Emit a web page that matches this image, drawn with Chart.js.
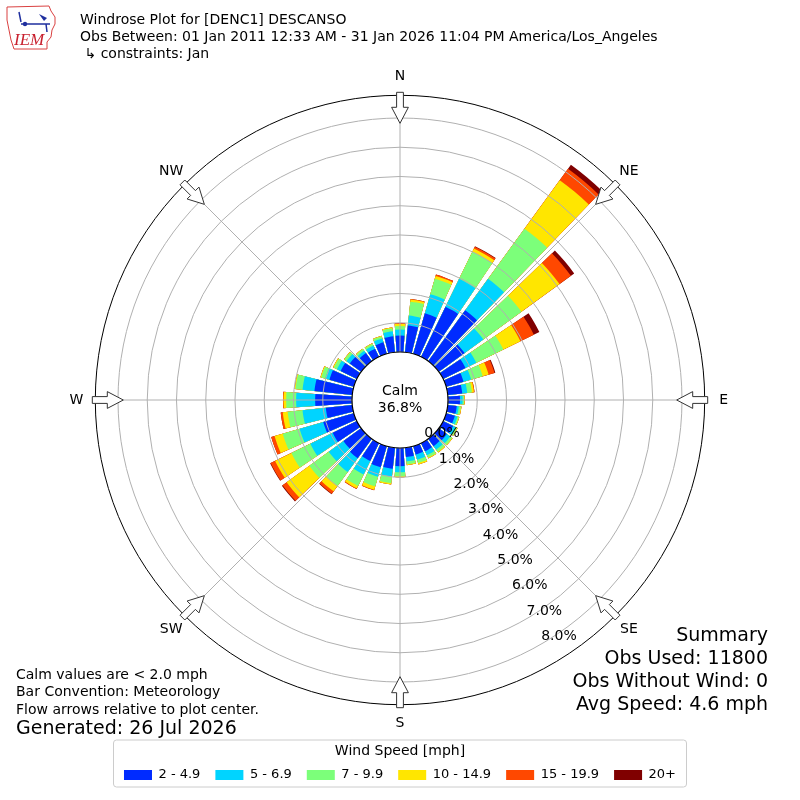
<!DOCTYPE html>
<html>
<head>
<meta charset="utf-8">
<title>Windrose DESCANSO</title>
<script src="https://cdn.jsdelivr.net/npm/chart.js@4.4.1/dist/chart.umd.min.js"></script>
<style>
  html, body { margin: 0; padding: 0; background: #fff; }
  #wrap { width: 800px; height: 800px; }
</style>
</head>
<body>
<div id="wrap"><canvas id="rose" width="800" height="800"></canvas></div>
<script>
// bar directions, degrees clockwise from north
const directions = [0, 10, 20, 30, 40, 50, 60, 70, 80, 90, 100, 110, 120, 130, 140, 150, 160, 170,
                    180, 190, 200, 210, 220, 230, 240, 250, 260, 270, 280, 290, 300, 310, 320, 330, 340, 350];
const speedBins = ['2 - 4.9', '5 - 6.9', '7 - 9.9', '10 - 14.9', '15 - 19.9', '20+'];

// percent of obs in each speed bin, per direction
const spd2to5 = [0.56, 0.92, 1.44, 1.91, 2.15, 1.09, 0.85, 0.62, 0.50, 0.41, 0.31, 0.31, 0.38, 0.34, 0.31, 0.31, 0.30, 0.32,
                 0.62, 0.72, 0.75, 0.68, 0.82, 0.75, 0.92, 1.09, 0.91, 1.26, 1.30, 0.87, 0.62, 0.48, 0.34, 0.31, 0.41, 0.55];
const spd5to7 = [0.21, 0.34, 0.68, 1.06, 1.33, 0.79, 0.41, 0.27, 0.17, 0.09, 0.07, 0.09, 0.10, 0.14, 0.15, 0.15, 0.18, 0.15,
                 0.21, 0.27, 0.34, 0.51, 0.58, 0.62, 0.85, 0.84, 0.80, 0.65, 0.41, 0.15, 0.14, 0.14, 0.10, 0.12, 0.14, 0.17];
const spd7to10 = [0.12, 0.48, 0.55, 1.03, 2.12, 1.61, 1.03, 0.41, 0.16, 0.05, 0.07, 0.05, 0.05, 0.08, 0.09, 0.09, 0.12, 0.10,
                  0.14, 0.22, 0.34, 0.44, 0.58, 0.82, 0.72, 0.60, 0.51, 0.34, 0.24, 0.14, 0.12, 0.09, 0.07, 0.07, 0.07, 0.10];
const spd10to15 = [0.07, 0.07, 0.10, 0.12, 2.05, 1.61, 0.65, 0.21, 0.07, 0.02, 0.02, 0.02, 0.02, 0.02, 0.03, 0.03, 0.05, 0.03,
                   0.03, 0.05, 0.12, 0.09, 0.24, 0.96, 0.62, 0.29, 0.17, 0.09, 0.03, 0.03, 0.03, 0.02, 0.02, 0.02, 0.02, 0.03];
const spd15to20 = [0.03, 0.02, 0.05, 0.07, 0.48, 0.48, 0.51, 0.21, 0.02, 0, 0, 0, 0, 0, 0, 0, 0, 0,
                   0, 0, 0.02, 0.02, 0.10, 0.17, 0.17, 0.12, 0.07, 0.02, 0, 0, 0, 0, 0, 0, 0, 0];
const spd20up = [0, 0, 0, 0.02, 0.17, 0.14, 0.21, 0.03, 0, 0, 0, 0, 0, 0, 0, 0, 0, 0,
                 0, 0, 0, 0, 0.02, 0.03, 0.02, 0, 0, 0, 0, 0, 0, 0, 0, 0, 0, 0];

const ringTicks = [0, 1, 2, 3, 4, 5, 6, 7, 8];   // % rings
const compass = ['N', 'NE', 'E', 'SE', 'S', 'SW', 'W', 'NW'];
const calmPct = 36.8;
const summaryLines = ['Summary', 'Obs Used: 11800', 'Obs Without Wind: 0', 'Avg Speed: 4.6 mph'];
const noteLines = ['Calm values are < 2.0 mph', 'Bar Convention: Meteorology', 'Flow arrows relative to plot center.'];

const binColors = ['#002bff', '#00d4ff', '#7cff7a', '#ffe600', '#ff4800', '#800000'];
const RMIN = -1.641, RMAX = 8.776;   // calm hole sits below 0 %
const FONT = '"DejaVu Sans", sans-serif';

Chart.defaults.font.family = FONT;
Chart.defaults.color = '#000';

// stacked look: each dataset is the running total, smallest drawn on top
const binSeries = [spd2to5, spd5to7, spd7to10, spd10to15, spd15to20, spd20up];
const cumulative = binSeries.map((s, k) =>
  directions.map((d, i) => binSeries.slice(0, k + 1).reduce((t, arr) => t + arr[i], 0)));

// each direction = an 8 deg bar + a 2 deg empty gap
const labels = directions.flatMap(d => [d + '°', '']);

function rad(a) { return a * Math.PI / 180; }

const roseDecor = {
  id: 'roseDecor',
  afterLayout(chart) {
    const r = chart.scales.r;
    r.xCenter = 400;
    r.yCenter = 400;
    r.drawingArea = 304.7;
  },
  afterDatasetsDraw(chart) {
    const r = chart.scales.r, ctx = chart.ctx;
    const r0 = r.getDistanceFromCenterForValue(0), r1 = r.drawingArea;
    ctx.save();
    ctx.strokeStyle = '#b0b0b0';
    ctx.lineWidth = 1;
    for (let a = 0; a < 360; a += 45) {
      const s = Math.sin(rad(a)), c = -Math.cos(rad(a));
      ctx.beginPath();
      ctx.moveTo(r.xCenter + r0 * s, r.yCenter + r0 * c);
      ctx.lineTo(r.xCenter + r1 * s, r.yCenter + r1 * c);
      ctx.stroke();
    }
    ctx.restore();
  },
  afterDraw(chart) {
    const r = chart.scales.r, ctx = chart.ctx;
    const cx = r.xCenter, cy = r.yCenter, R = r.drawingArea;
    ctx.save();

    // compass arrows + labels
    compass.forEach((name, i) => {
      const a = i * 45;
      const s = Math.sin(rad(a)), c = -Math.cos(rad(a));
      const pts = [[R + 3, -3.4], [R - 12, -3.4], [R - 12, -8.4], [R - 28, 0], [R - 12, 8.4], [R - 12, 3.4], [R + 3, 3.4]];
      ctx.beginPath();
      pts.forEach(([d, w], j) => {
        const x = cx + d * s - w * c, y = cy + d * c + w * s;
        if (j) ctx.lineTo(x, y); else ctx.moveTo(x, y);
      });
      ctx.closePath();
      ctx.fillStyle = '#fff';
      ctx.fill();
      ctx.strokeStyle = '#333';
      ctx.lineWidth = 1;
      ctx.stroke();
      ctx.fillStyle = '#000';
      ctx.font = '14px ' + FONT;
      ctx.textAlign = 'center';
      ctx.textBaseline = 'middle';
      ctx.fillText(name, cx + (R + 19) * s, cy + (R + 19) * c);
    });

    // calm hole
    const r0 = r.getDistanceFromCenterForValue(0);
    ctx.beginPath();
    ctx.arc(cx, cy, r0, 0, Math.PI * 2);
    ctx.fillStyle = '#fff';
    ctx.fill();
    ctx.strokeStyle = '#000';
    ctx.lineWidth = 1.2;
    ctx.stroke();
    ctx.fillStyle = '#000';
    ctx.font = '14px ' + FONT;
    ctx.fillText('Calm', cx, cy - 9);
    ctx.fillText(calmPct.toFixed(1) + '%', cx, cy + 8);

    // ring labels along 150 deg
    ringTicks.forEach(v => {
      const d = r.getDistanceFromCenterForValue(v);
      ctx.fillText(v.toFixed(1) + '%', cx + d * 0.5 + 18, cy + d * 0.866 - 7.9);
    });

    // summary block
    ctx.font = '19px ' + FONT;
    ctx.textAlign = 'right';
    summaryLines.forEach((t, i) => ctx.fillText(t, 768, 636 + i * 23));

    // notes bottom left
    ctx.textAlign = 'left';
    ctx.font = '14px ' + FONT;
    noteLines.forEach((t, i) => ctx.fillText(t, 16, 675 + i * 17.5));
    ctx.font = '19px ' + FONT;
    ctx.fillText('Generated: 26 Jul 2026', 16, 729);

    // legend frame
    const lg = chart.legend;
    ctx.beginPath();
    ctx.roundRect(113.5, lg.top - 4.5, 573, 47, 3);
    ctx.strokeStyle = '#cccccc';
    ctx.lineWidth = 1;
    ctx.stroke();

    // IEM logo, rough
    ctx.beginPath();
    [[7, 7], [49, 6], [51, 11], [55, 17], [55, 24], [52, 30], [51, 37], [47, 42], [47, 49], [14, 49], [11, 40], [9, 30], [7, 20]]
      .forEach(([x, y], j) => j ? ctx.lineTo(x, y) : ctx.moveTo(x, y));
    ctx.closePath();
    ctx.strokeStyle = '#d94040';
    ctx.lineWidth = 1;
    ctx.stroke();
    ctx.strokeStyle = '#1f2f9f';
    ctx.lineWidth = 1.5;
    ctx.beginPath();
    ctx.moveTo(21, 24); ctx.lineTo(50, 24);
    ctx.moveTo(19, 12); ctx.lineTo(21, 22);
    ctx.moveTo(46, 24); ctx.lineTo(47, 32);
    ctx.stroke();
    ctx.fillStyle = '#1f2f9f';
    ctx.beginPath(); ctx.arc(25, 24, 2.2, 0, Math.PI * 2); ctx.fill();
    ctx.beginPath(); ctx.moveTo(39, 14); ctx.lineTo(47, 18); ctx.lineTo(44, 21); ctx.closePath(); ctx.fill();
    ctx.fillStyle = '#c8202e';
    ctx.font = 'italic 17px "Liberation Serif", serif';
    ctx.textAlign = 'left';
    ctx.textBaseline = 'alphabetic';
    ctx.fillText('IEM', 14, 45);

    ctx.restore();
  }
};

new Chart(document.getElementById('rose'), {
  type: 'polarArea',
  data: {
    labels: labels,
    datasets: cumulative.map((vals, k) => ({
      label: speedBins[k],
      data: vals.flatMap(v => [v, 0]),
      backgroundColor: binColors[k],
      borderWidth: 0,
      angle: ctx => (ctx.dataIndex % 2 ? 2 : 8),
      clip: false
    }))
  },
  options: {
    responsive: false,
    animation: false,
    layout: { padding: { left: 80, right: 80, top: 0, bottom: 8.5 } },
    scales: {
      r: {
        min: RMIN,
        max: RMAX,
        startAngle: -4,
        ticks: { display: false },
        afterBuildTicks: s => { s.ticks = ringTicks.concat([RMAX]).map(v => ({ value: v })); },
        grid: {
          z: 1,
          circular: true,
          lineWidth: 1,
          color: c => (c.index === ringTicks.length ? '#000' : '#b0b0b0')
        },
        angleLines: { display: false },
        pointLabels: { display: false }
      }
    },
    plugins: {
      tooltip: { enabled: false },
      title: {
        display: true,
        align: 'start',
        color: '#000',
        text: ['Windrose Plot for [DENC1] DESCANSO',
               'Obs Between: 01 Jan 2011 12:33 AM - 31 Jan 2026 11:04 PM America/Los_Angeles',
               ' ↳ constraints: Jan'],
        font: { size: 14, weight: 'normal', lineHeight: '17px' },
        padding: { top: 12, bottom: 0 }
      },
      legend: {
        position: 'bottom',
        title: {
          display: true,
          text: 'Wind Speed [mph]',
          font: { size: 14, lineHeight: '9px' },
          padding: { top: 0, bottom: 0 }
        },
        labels: {
          boxWidth: 28,
          boxHeight: 10,
          padding: 15,
          font: { size: 13 },
          generateLabels: chart => chart.data.datasets.map((ds, i) => ({
            text: ds.label,
            fillStyle: binColors[i],
            strokeStyle: binColors[i],
            lineWidth: 0,
            hidden: false,
            datasetIndex: i
          }))
        }
      }
    }
  },
  plugins: [roseDecor]
});
</script>
</body>
</html>
